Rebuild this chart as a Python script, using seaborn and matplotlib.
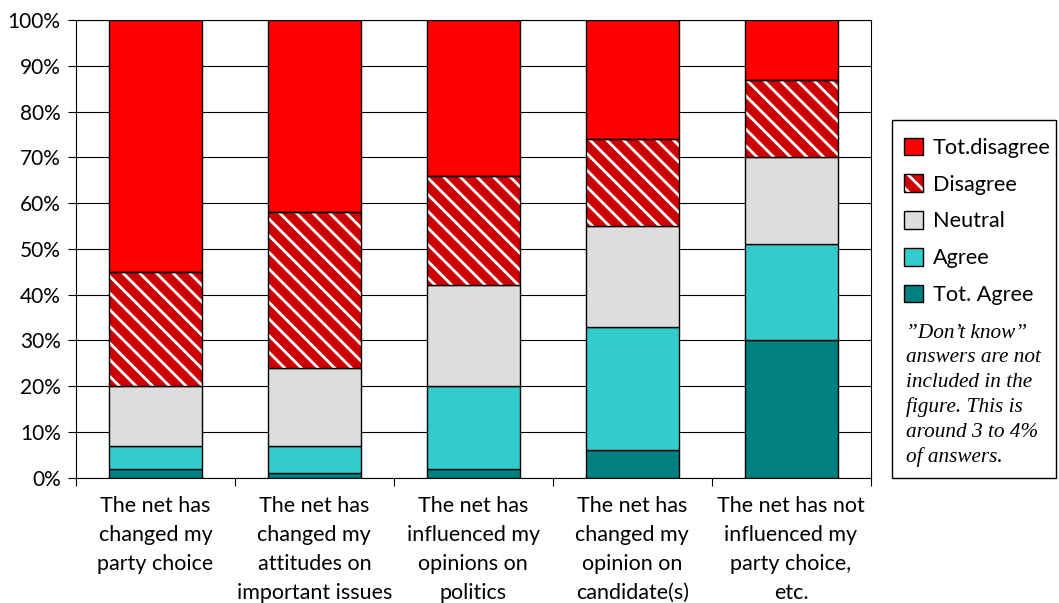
import numpy as np
import matplotlib
matplotlib.use("Agg")
import matplotlib.pyplot as plt
import seaborn as sns
from matplotlib.patches import Rectangle
from matplotlib.ticker import FixedLocator, FuncFormatter

# ---------------- data ----------------
categories = [
    "The net has\nchanged my\nparty choice",
    "The net has\nchanged my\nattitudes on\nimportant issues",
    "The net has\ninfluenced my\nopinions on\npolitics",
    "The net has\nchanged my\nopinion on\ncandidate(s)",
    "The net has not\ninfluenced my\nparty choice,\netc.",
]
tot_agree = [2, 1, 2, 6, 30]
agree = [5, 6, 18, 27, 21]
neutral = [13, 17, 22, 22, 19]
disagree = [25, 34, 24, 19, 17]
tot_disagree = [55, 42, 34, 26, 13]
series_names = ["Tot. Agree", "Agree", "Neutral", "Disagree", "Tot.disagree"]
y_ticks = [0, 10, 20, 30, 40, 50, 60, 70, 80, 90, 100]
note_text = ("\u201dDon\u2019t know\u201d\nanswers are not\nincluded in the\n"
             "figure. This is\naround 3 to 4%\nof answers.")

series_values = [tot_agree, agree, neutral, disagree, tot_disagree]
series_colors = ["#008080", "#33CCCC", "#DDDDDD", "#CC0000", "#FF0000"]

# ---------------- style ----------------
sns.set_theme(style="ticks")
plt.rcParams["font.family"] = ["Lato", "DejaVu Sans"]
plt.rcParams["text.color"] = "black"
plt.rcParams["xtick.color"] = "black"
plt.rcParams["ytick.color"] = "black"
plt.rcParams["hatch.linewidth"] = 2.0

W, H = 1059, 603
fig = plt.figure(figsize=(W / 100, H / 100), dpi=100)
ax_left, ax_right, ax_top, ax_bottom = 76, 870.5, 20, 477.7
ax = fig.add_axes([ax_left / W, 1 - ax_bottom / H, (ax_right - ax_left) / W, (ax_bottom - ax_top) / H])

bottom = np.zeros(len(categories))
containers = {}
for name, vals, color in zip(series_names, series_values, series_colors):
    sns.barplot(x=categories, y=vals, bottom=bottom.copy(), color=color, saturation=1,
                width=0.585, edgecolor="black", linewidth=1.0, errorbar=None, ax=ax,
                zorder=3)
    containers[name] = ax.containers[-1]
    bottom += np.array(vals, dtype=float)

# hatched "Disagree" layer: white stripes on dark red, black outline on top
for p in containers["Disagree"]:
    p.set_hatch("\\\\")
    p.set_edgecolor("white")
    p.set_linewidth(0)
    r = Rectangle(p.get_xy(), p.get_width(), p.get_height(), fill=False,
                  edgecolor="black", linewidth=1.0, zorder=4)
    ax.add_patch(r)

ax.set_xlim(-0.5, len(categories) - 0.5)
ax.set_ylim(0, 100)
ax.set_yticks(y_ticks)
ax.yaxis.set_major_formatter(FuncFormatter(lambda v, _: f"{v:.0f}%"))
ax.yaxis.grid(True, color="black", linewidth=0.8, zorder=0)
ax.xaxis.grid(False)
ax.set_axisbelow(True)
ax.set_xlabel("")
ax.set_ylabel("")

ax.xaxis.set_minor_locator(FixedLocator(np.arange(-0.5, len(categories), 1.0)))
ax.tick_params(axis="x", which="major", length=0, pad=13, labelsize=15.5)
ax.tick_params(axis="x", which="minor", length=6, width=0.8, direction="out", color="black")
ax.tick_params(axis="y", which="major", length=6, width=0.8, direction="out", pad=5, labelsize=15)
for lbl in ax.get_xticklabels():
    lbl.set_linespacing(1.57)

for s in ax.spines.values():
    s.set_visible(True)
    s.set_color("black")
    s.set_linewidth(0.8)

# ---------------- legend box ----------------
box_l, box_r, box_t, box_b = 892, 1056, 120, 478
fig.add_artist(Rectangle((box_l / W, 1 - box_b / H), (box_r - box_l) / W, (box_b - box_t) / H,
                         transform=fig.transFigure, fill=False, edgecolor="black", linewidth=1.0))

legend_order = ["Tot.disagree", "Disagree", "Neutral", "Agree", "Tot. Agree"]
handles = []
for name in legend_order:
    h = containers[name][0]
    if name == "Disagree":
        handles.append((h, Rectangle((0, 0), 1, 1, fill=False, edgecolor="black", linewidth=1.0)))
    else:
        handles.append(h)
fig.legend(handles, legend_order, loc="upper left",
           bbox_to_anchor=(904 / W, 1 - 137.5 / H), frameon=False, fontsize=15.6,
           handlelength=0.88, handleheight=0.88, handletextpad=0.45,
           labelspacing=0.76, borderpad=0, borderaxespad=0)

fig.text(905.5 / W, 1 - 324 / H, note_text, ha="left", va="top",
         family=["Liberation Serif", "DejaVu Serif"], fontstyle="italic",
         fontsize=15.3, linespacing=1.38)

fig.savefig("out.png", dpi=100)
